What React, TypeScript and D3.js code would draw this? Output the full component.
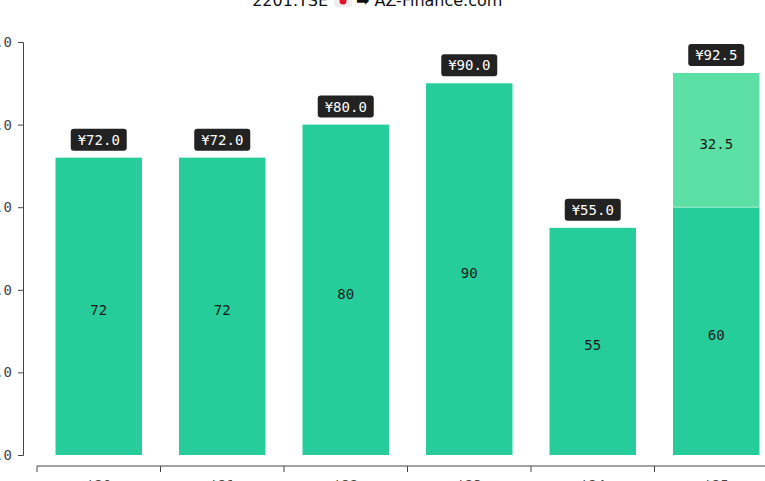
import { useRef, useEffect } from 'react'
import * as d3 from 'd3'

const W = 765
const H = 481

const PERIODS = ["'20", "'21", "'22", "'23", "'24", "'25"]
const BASE_VALUES = [72, 72, 80, 90, 55, 60]
const EXTRA_VALUES = [0, 0, 0, 0, 0, 32.5]
const Y_TICKS = [0, 20, 40, 60, 80, 100]

const BAR_COLOR = '#26cc99'
const EXTRA_COLOR = '#5ce0a6'
const MONO = "'DejaVu Sans Mono', monospace"

export default function App() {
  const svgRef = useRef<SVGSVGElement>(null)

  useEffect(() => {
    if (!svgRef.current) return
    const svg = d3.select(svgRef.current)
    svg.selectAll('*').remove()

    const y = d3.scaleLinear().domain([0, 100]).range([455, 42])
    const x = d3.scaleBand<string>()
      .domain(PERIODS)
      .range([37, 37 + 6 * 123.5])
      .paddingInner(0.3)
      .paddingOuter(0.15)
    const step = x.step()
    const bw = x.bandwidth()

    // title (mostly cropped at the top)
    const title = svg.append('g').attr('font-family', "'DejaVu Sans', sans-serif").attr('font-size', 16).attr('fill', '#111')
    title.append('text').attr('x', 328).attr('y', 6).attr('text-anchor', 'end').text('2201.TSE')
    title.append('rect').attr('x', 334).attr('y', -6).attr('width', 18).attr('height', 13).attr('rx', 2).attr('fill', '#eeeeee')
    title.append('circle').attr('cx', 343).attr('cy', 1).attr('r', 3.5).attr('fill', '#e8112d')
    title.append('text').attr('x', 356).attr('y', 6).text('➡ AZ-Finance.com')

    // y axis
    svg.append('g')
      .attr('transform', 'translate(23,0)')
      .call(d3.axisLeft(y).tickValues(Y_TICKS).tickSize(5).tickPadding(6).tickFormat((d) => d3.format('.1f')(d as number)))
      .call((g) => {
        g.select('.domain').attr('stroke', '#444')
        g.selectAll('.tick line').attr('stroke', '#444')
        g.selectAll('text').attr('fill', '#444').attr('font-size', 14).attr('font-family', MONO)
      })

    // x axis: ticks at band boundaries, labels at centres
    const xg = svg.append('g')
    xg.append('line').attr('x1', 37).attr('x2', W).attr('y1', 466).attr('y2', 466).attr('stroke', '#444')
    PERIODS.forEach((p) => {
      const bx = (x(p) ?? 0) - step * 0.15
      xg.append('line').attr('x1', bx).attr('x2', bx).attr('y1', 466).attr('y2', 472).attr('stroke', '#444')
      xg.append('text')
        .attr('x', (x(p) ?? 0) + bw / 2).attr('y', 490)
        .attr('text-anchor', 'middle').attr('font-family', MONO).attr('font-size', 14).attr('fill', '#444')
        .text(p)
    })

    // bars
    const bars = svg.append('g')
    PERIODS.forEach((p, i) => {
      const bx = x(p) ?? 0
      const base = BASE_VALUES[i]
      const extra = EXTRA_VALUES[i]
      const total = base + extra
      bars.append('rect')
        .attr('x', bx).attr('y', y(base)).attr('width', bw).attr('height', y(0) - y(base))
        .attr('fill', BAR_COLOR)
      bars.append('text')
        .attr('x', bx + bw / 2).attr('y', (y(0) + y(base)) / 2 + 9)
        .attr('text-anchor', 'middle').attr('font-family', MONO).attr('font-size', 14).attr('fill', '#1a1a1a')
        .text(String(base))
      if (extra > 0) {
        bars.append('rect')
          .attr('x', bx).attr('y', y(total)).attr('width', bw).attr('height', y(base) - y(total))
          .attr('fill', EXTRA_COLOR)
        bars.append('line')
          .attr('x1', bx).attr('x2', bx + bw).attr('y1', y(base)).attr('y2', y(base))
          .attr('stroke', '#9eeccb').attr('stroke-width', 1)
        bars.append('text')
          .attr('x', bx + bw / 2).attr('y', (y(base) + y(total)) / 2 + 9)
          .attr('text-anchor', 'middle').attr('font-family', MONO).attr('font-size', 14).attr('fill', '#1a1a1a')
          .text(String(extra))
      }
      // total badge
      const cy = y(total) - 18
      const label = `¥${total.toFixed(1)}`
      bars.append('rect')
        .attr('x', bx + bw / 2 - 28).attr('y', cy - 11).attr('width', 56).attr('height', 22).attr('rx', 3)
        .attr('fill', '#222')
      bars.append('text')
        .attr('x', bx + bw / 2).attr('y', cy + 5)
        .attr('text-anchor', 'middle').attr('font-family', MONO).attr('font-size', 14).attr('fill', '#fff')
        .text(label)
    })
  }, [])

  return (
    <svg
      ref={svgRef}
      width={W}
      height={H}
      style={{ position: 'fixed', left: 0, top: 0, background: '#fff', overflow: 'hidden' }}
    />
  )
}
